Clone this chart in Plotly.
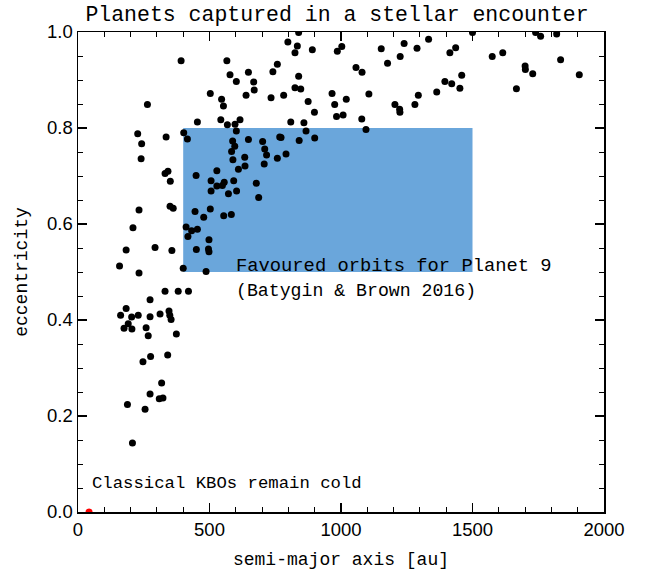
import plotly.graph_objects as go

# semi-major axis [au] and eccentricity of captured planets
semi_major_axis = [
    392, 566, 578, 648, 602, 668, 670, 639, 741, 758, 734, 503, 546, 553, 264, 454,
    543, 568, 597, 616, 227, 335, 402, 416, 242, 602, 588, 596, 584, 648, 702, 710,
    717, 758, 767, 240, 589, 634, 635, 610, 708, 331, 342, 351, 449, 528, 506, 528,
    556, 549, 592, 506, 572, 603, 678, 687,
    232, 350, 362, 445, 503, 478, 554, 583, 209, 411, 432, 454, 418, 498, 183, 293,
    357, 450, 496, 498, 158, 232, 400, 487, 331, 381, 420, 274, 183, 162, 204, 229,
    274, 312, 346, 349, 354, 191, 175, 205, 259, 267, 374, 341, 276, 247,
    318, 274, 309, 323, 188, 255, 207,
    839, 798, 834, 825, 891, 1003, 986, 1153, 1240, 1333, 1289, 1225, 1177, 1414,
    839, 825, 847, 782, 1057, 1080, 966, 1020, 976, 1106, 875, 899, 983, 1008, 1079,
    1095, 1205, 1223, 1224, 1281, 1294, 1364, 1395, 809, 859, 867, 772, 841, 900, 791,
    1500, 1740, 1759, 1820, 1436, 1575, 1615, 1835, 1700, 1701, 1729, 1906, 1421,
    1459, 1452, 1667,
]
eccentricity = [
    0.940, 0.940, 0.911, 0.916, 0.897, 0.896, 0.879, 0.868, 0.917, 0.933, 0.863, 0.872,
    0.860, 0.846, 0.849, 0.8125, 0.817, 0.807, 0.808, 0.817, 0.788, 0.781, 0.790, 0.777,
    0.767, 0.794, 0.773, 0.762, 0.751, 0.776, 0.772, 0.756, 0.744, 0.737, 0.781, 0.736,
    0.734, 0.739, 0.721, 0.714, 0.725, 0.705, 0.710, 0.689, 0.701, 0.711, 0.690, 0.679,
    0.687, 0.680, 0.690, 0.669, 0.663, 0.669, 0.685, 0.655,
    0.629, 0.637, 0.633, 0.626, 0.631, 0.614, 0.617, 0.620, 0.592, 0.594, 0.586, 0.589,
    0.574, 0.567, 0.546, 0.551, 0.545, 0.547, 0.548, 0.542, 0.5125, 0.498, 0.508, 0.501,
    0.460, 0.460, 0.460, 0.442, 0.424, 0.410, 0.406, 0.410, 0.407, 0.4125, 0.419, 0.410,
    0.401, 0.392, 0.383, 0.381, 0.384, 0.367, 0.371, 0.327, 0.324, 0.313,
    0.269, 0.246, 0.236, 0.2375, 0.224, 0.214, 0.144,
    0.999, 0.979, 0.971, 0.957, 0.963, 0.970, 0.960, 0.965, 0.976, 0.985, 0.966, 0.949,
    0.935, 0.957, 0.908, 0.884, 0.881, 0.868, 0.926, 0.916, 0.872, 0.860, 0.849, 0.871,
    0.855, 0.833, 0.824, 0.827, 0.819, 0.797, 0.849, 0.839, 0.833, 0.849, 0.868, 0.875,
    0.897, 0.8125, 0.811, 0.794, 0.780, 0.774, 0.779, 0.746,
    0.999, 0.999, 0.991, 0.996, 0.967, 0.949, 0.957, 0.942, 0.929, 0.922, 0.913, 0.911,
    0.892, 0.910, 0.883, 0.882,
]

# classical Kuiper belt objects
kbo_a = [42]
kbo_e = [0.0]

# favoured Planet 9 orbit box
p9_a_range = [400, 1500]
p9_e_range = [0.5, 0.8]

x_ticks = [0, 500, 1000, 1500, 2000]
y_ticks = [0.0, 0.2, 0.4, 0.6, 0.8, 1.0]

serif = "Liberation Mono"
sans = "Liberation Sans"

fig = go.Figure()
fig.add_shape(type="rect", x0=p9_a_range[0], x1=p9_a_range[1],
              y0=p9_e_range[0], y1=p9_e_range[1],
              fillcolor="#6aa6db", line=dict(width=0), layer="below")
fig.add_trace(go.Scatter(x=semi_major_axis, y=eccentricity, mode="markers",
                         marker=dict(color="black", size=7, line=dict(width=0)),
                         showlegend=False, hoverinfo="skip"))
fig.add_trace(go.Scatter(x=kbo_a, y=kbo_e, mode="markers",
                         marker=dict(color="red", size=7, line=dict(width=0)),
                         showlegend=False, hoverinfo="skip"))

fig.add_annotation(x=595, y=0.512, xref="x", yref="y", text="Favoured orbits for Planet 9",
                   showarrow=False, xanchor="left", yanchor="middle",
                   font=dict(family=serif, size=18.8, color="black"))
fig.add_annotation(x=595, y=0.460, xref="x", yref="y", text="(Batygin &amp; Brown 2016)",
                   showarrow=False, xanchor="left", yanchor="middle",
                   font=dict(family=serif, size=18.2, color="black"))
fig.add_annotation(x=45, y=0.059, xref="x", yref="y", text="Classical KBOs remain cold",
                   showarrow=False, xanchor="left", yanchor="middle",
                   font=dict(family=serif, size=17.3, color="black"))

axis_common = dict(showgrid=False, zeroline=False, showline=True, linecolor="black",
                   linewidth=1.5, mirror="allticks", ticks="inside", ticklen=9,
                   tickwidth=1.2, tickcolor="black", automargin=False,
                   tickfont=dict(family=sans, size=18.5, color="black"))

fig.update_xaxes(range=[0, 2000], tickvals=x_ticks,
                 minor=dict(dtick=100, ticks="inside", ticklen=5, tickcolor="black", tickwidth=1),
                 title=dict(text="semi-major axis [au]", font=dict(family=serif, size=18, color="black"),
                            standoff=13),
                 **axis_common)
fig.update_yaxes(range=[0, 1.0], tickvals=y_ticks, tickformat=".1f",
                 minor=dict(dtick=0.05, ticks="inside", ticklen=5, tickcolor="black", tickwidth=1),
                 title=dict(text="eccentricity", font=dict(family=serif, size=18, color="black"),
                            standoff=15),
                 **axis_common)

fig.update_layout(
    width=649, height=570,
    margin=dict(l=78, r=45, t=32, b=58),
    paper_bgcolor="white", plot_bgcolor="white",
    title=dict(text="Planets captured in a stellar encounter", x=337 / 649, xanchor="center",
               y=1 - 13 / 570, yanchor="middle", font=dict(family=serif, size=21.5, color="black")),
)

# remove the default 8px page margin so the figure sits at the window's corner
fig.write_html("out.html", config={"displayModeBar": False, "staticPlot": True},
               post_script="document.body.style.margin='0px';")
